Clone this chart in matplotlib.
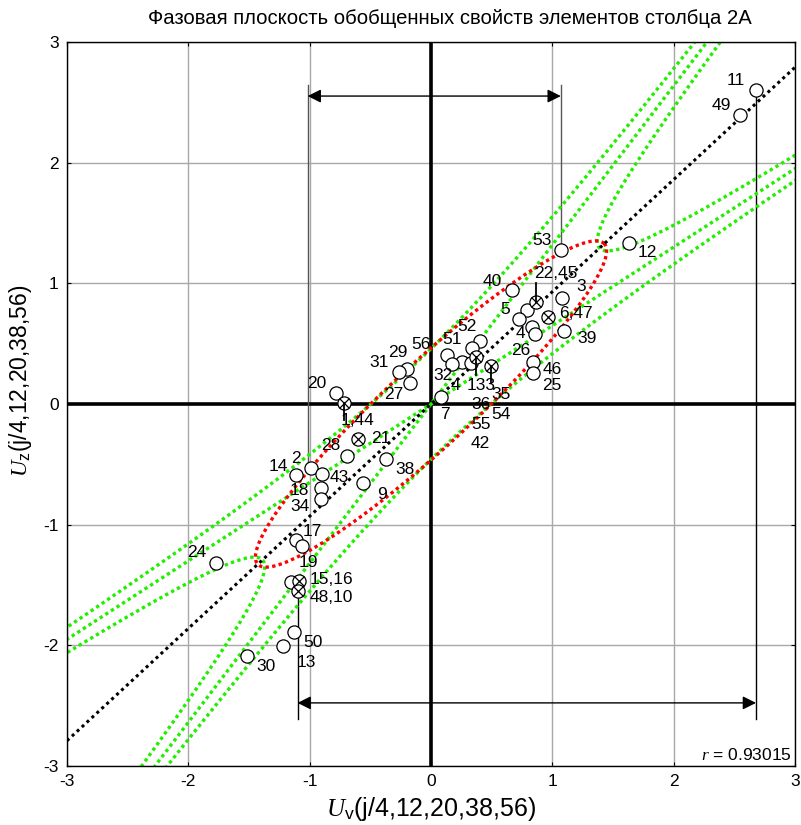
import numpy as np
import matplotlib.pyplot as plt

plt.rcParams['font.family'] = ['Liberation Sans', 'DejaVu Sans']
plt.rcParams['mathtext.fontset'] = 'custom'
plt.rcParams['mathtext.it'] = 'Liberation Serif:italic'
plt.rcParams['mathtext.rm'] = 'Liberation Sans'
plt.rcParams['axes.unicode_minus'] = False

# open circles
uv = [1.07, 0.67, 1.083, 0.795, 0.726, 1.097, 0.836, 0.858, 0.842, 0.842,
      0.402, 0.336, 0.135, 0.253, 0.176, 0.327, 0.085, -0.786, -0.196, -0.264,
      -0.176, -0.69, -0.374, -0.993, -1.111, -0.902, -0.561, -0.91, -0.91,
      -1.116, -1.067, -1.776, -1.15, -1.13, -1.221, -1.516, 2.679, 2.55, 1.628]
uz = [1.28, 0.945, 0.881, 0.779, 0.707, 0.605, 0.635, 0.577, 0.351, 0.26,
      0.525, 0.461, 0.406, 0.351, 0.331, 0.342, 0.06, 0.089, 0.287, 0.268,
      0.171, -0.431, -0.453, -0.528, -0.588, -0.58, -0.657, -0.698, -0.787,
      -1.127, -1.174, -1.315, -1.472, -1.887, -2.005, -2.088, 2.6, 2.394, 1.336]

# crossed circles (coinciding elements)
uv_x = [0.864, 0.968, 0.369, 0.498, -0.718, -0.6, -1.089, -1.095]
uz_x = [0.848, 0.723, 0.387, 0.315, 0.011, -0.29, -1.464, -1.547]

# short vertical marks: x, y from, y to
marks = [(0.864, 0.848, 1.005), (-0.718, 0.011, -0.13),
         (0.369, 0.387, 0.24), (0.498, 0.315, 0.174)]

labels = ["11", "49", "12", "53", "22,45", "3", "40", "5", "6,47", "4", "39",
          "26", "46", "25", "52", "51", "56", "29", "31", "32", "4", "133",
          "35", "36", "54", "55", "42", "7", "20", "27", "1,44", "21", "28",
          "2", "14", "43", "38", "9", "18", "34", "17", "19", "24", "15,16",
          "48,10", "50", "13", "30"]
lab_x = [2.51, 2.39, 1.785, 0.918, 1.029, 1.235, 0.506, 0.608, 1.194, 0.74, 1.29,
         0.74, 0.996, 0.996, 0.30, 0.176, -0.085, -0.27, -0.429, 0.102, 0.204, 0.41,
         0.575, 0.41, 0.575, 0.41, 0.41, 0.113, -0.938, -0.305, -0.602, -0.415, -0.828,
         -1.116, -1.26, -0.759, -0.215, -0.402, -1.083, -1.083, -0.979, -1.007, -1.928,
         -0.819, -0.819, -0.971, -1.029, -1.359]
lab_y = [2.68, 2.477, 1.254, 1.359, 1.083, 0.972, 1.013, 0.785, 0.746, 0.586, 0.544,
         0.447, 0.287, 0.152, 0.646, 0.536, 0.497, 0.425, 0.342, 0.24, 0.152, 0.152,
         0.075, -0.008, -0.085, -0.168, -0.331, -0.091, 0.166, 0.075, -0.138, -0.29, -0.348,
         -0.45, -0.519, -0.61, -0.541, -0.748, -0.713, -0.851, -1.058, -1.315, -1.232,
         -1.458, -1.602, -1.974, -2.14, -2.176]

r = 0.93015
band_angle = 9.9          # deg, asymptotes around regression line
band_k = [-0.21, 0.0, 0.21]
ell_a, ell_b = 1.95, 0.345

# range arrows
top_arrow = (-1.017, 1.07, 2.552)
bot_arrow = (-1.1, 2.679, -2.477)

fig = plt.figure(figsize=(8.01, 8.25), dpi=100)
ax = fig.add_axes([67 / 801, 1 - 766 / 825, 728 / 801, 724 / 825])
ax.set_xlim(-3, 3)
ax.set_ylim(-3, 3)
ax.grid(True, color='#a8a8a8', lw=1.0)
ax.set_axisbelow(True)
ax.axhline(0, color='black', lw=2.6, zorder=1.5)
ax.axvline(0, color='black', lw=2.6, zorder=1.5)

# hyperbolic bands
th = np.arctan(r)
d = np.radians(band_angle)
m1, m2 = np.tan(th + d), np.tan(th - d)
t = np.logspace(-3, 2, 3000)
for k in band_k:
    if k == 0:
        xx = np.array([-5, 5])
        for m in (m1, m2):
            ax.plot(xx, m * xx, color='#22ee00', lw=2.4, ls=(0, (1, 1)), zorder=2)
        continue
    for s in (1, -1):
        u = s * t
        v = k / u
        xx = (u - v) / (m2 - m1)
        yy = u + m1 * xx
        ax.plot(xx, yy, color='#22ee00', lw=2.4, ls=(0, (1, 1)), zorder=2)

# ellipse
phi = np.linspace(0, 2 * np.pi, 800)
ex = ell_a * np.cos(phi) * np.cos(th) - ell_b * np.sin(phi) * np.sin(th)
ey = ell_a * np.cos(phi) * np.sin(th) + ell_b * np.sin(phi) * np.cos(th)
ax.plot(ex, ey, color='red', lw=2.4, ls=(0, (1, 1)), zorder=2.1)

# regression line
xx = np.array([-3, 3])
ax.plot(xx, r * xx, color='black', lw=2.2, ls=(0, (1, 1.2)), zorder=2.2)

ax.plot(uv, uz, 'o', ms=9.5, mfc='white', mec='black', mew=0.9, zorder=3)
ax.plot(uv_x, uz_x, 'o', ms=9.5, mfc='white', mec='black', mew=0.9, zorder=3)
ax.plot(uv_x, uz_x, 'x', ms=6.5, color='black', mew=0.9, zorder=3.1)

for x0, y0, y1 in marks:
    ax.plot([x0, x0], [y0, y1], color='black', lw=1.3, zorder=3.2)

for s, x0, y0 in zip(labels, lab_x, lab_y):
    ax.text(x0, y0, s, fontsize=12.5, ha='center', va='center', zorder=4)

# arrows with end marks
x0, x1, ya = top_arrow
ax.annotate('', xy=(x0, ya), xytext=(x1, ya),
            arrowprops=dict(arrowstyle='<|-|>', color='black', lw=1.0,
                            mutation_scale=20, shrinkA=0, shrinkB=0))
ax.plot([x0, x0], [2.64, -0.5], color='#555555', lw=1.0, zorder=1.6)
ax.plot([x1, x1], [2.64, 1.28], color='#555555', lw=1.0, zorder=1.6)
x0, x1, ya = bot_arrow
ax.annotate('', xy=(x0, ya), xytext=(x1, ya),
            arrowprops=dict(arrowstyle='<|-|>', color='black', lw=1.0,
                            mutation_scale=20, shrinkA=0, shrinkB=0))
ax.plot([x0, x0], [-1.547, -2.61], color='black', lw=1.0, zorder=1.6)
ax.plot([x1, x1], [2.6, -2.61], color='black', lw=1.0, zorder=1.6)

ax.set_xticks(range(-3, 4))
ax.set_yticks(range(-3, 4))
ax.tick_params(direction='in', length=3, labelsize=12.5, top=True, right=True, pad=6)
for sp in ax.spines.values():
    sp.set_linewidth(1.0)

ax.text(0.995, 0.004, r'$\mathit{r}$ = 0.93015', transform=ax.transAxes,
        ha='right', va='bottom', fontsize=12.5)

fig.text(450 / 801, 1 - 18 / 825, 'Фазовая плоскость обобщенных свойств элементов столбца 2А',
         fontsize=14.6, family=['Liberation Sans Narrow', 'Liberation Sans'],
         ha='center', va='center')
ax.set_xlabel(r'$\mathit{U}_{\mathrm{v}}$(j/4,12,20,38,56)', fontsize=18, labelpad=4)
ax.set_ylabel(r'$\mathit{U}_{\mathrm{z}}$(j/4,12,20,38,56)', fontsize=16.5)
ax.yaxis.set_label_coords(-0.046, 0.532)

fig.savefig('out.png', dpi=100)
